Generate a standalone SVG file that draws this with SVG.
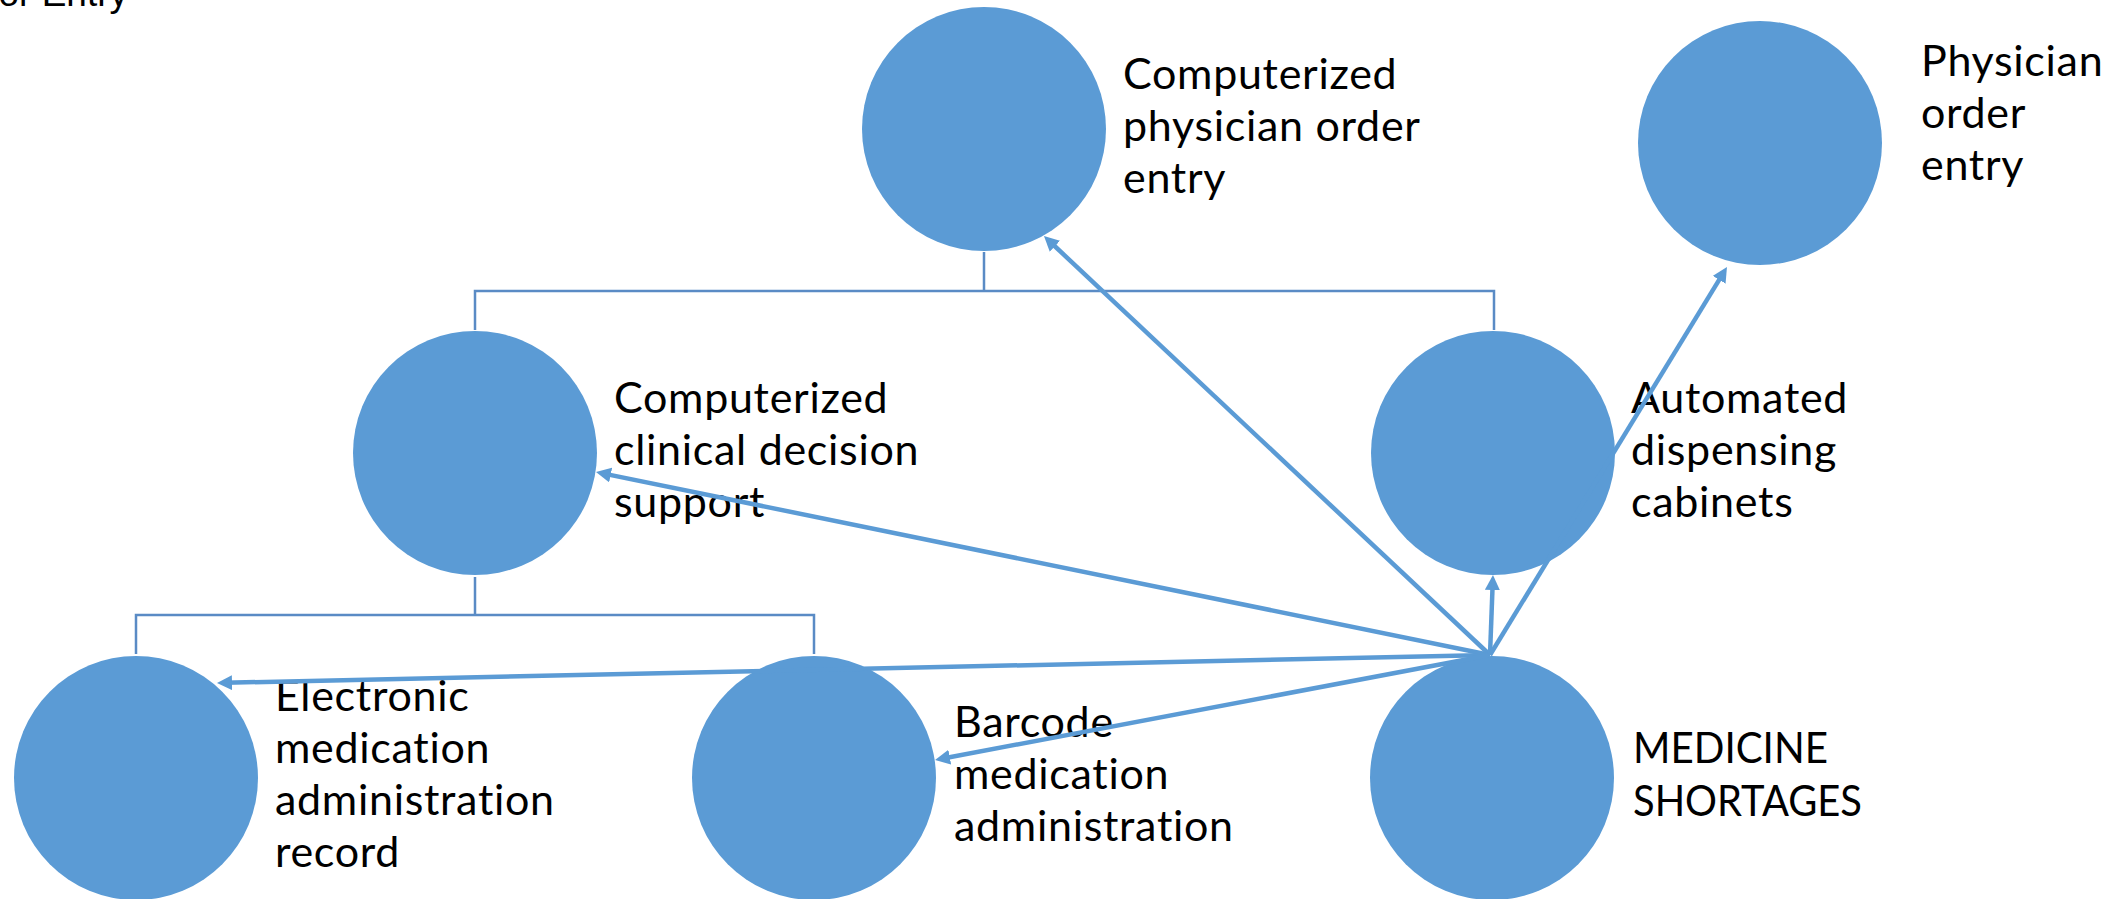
<svg xmlns="http://www.w3.org/2000/svg" width="2128" height="899" viewBox="0 0 2128 899">
  <style>
    .node { fill: #5b9bd5; }
    .lbl { font-family: Lato, "Open Sans", sans-serif; font-size: 43px; fill: #000; letter-spacing: 0.7px; font-variant-ligatures: none; font-feature-settings: "liga" 0, "clig" 0; }
    .caps { letter-spacing: 0; }
    .tree { fill: none; stroke: #5a8bc5; stroke-width: 2.5; }
    .link { fill: none; stroke: #5b9bd5; stroke-width: 4.5; marker-end: url(#head); }
    .title { font-family: "Liberation Sans", Arial, sans-serif; font-size: 37px; fill: #000; }
  </style>
  <defs>
    <marker id="head" markerUnits="userSpaceOnUse" markerWidth="16" markerHeight="16" refX="7" refY="7.5" orient="auto">
      <path d="M0,0 L15,7.5 L0,15 Z" fill="#5b9bd5"/>
    </marker>
  </defs>
  <rect width="2128" height="899" fill="#ffffff"/>

  <text class="title" x="128" y="6" text-anchor="end">or Entry</text>

  <!-- hierarchy brackets -->
  <g id="tree">
    <path class="tree" d="M984,252 V291 M475,330 V291 H1494 V330"/>
    <path class="tree" d="M475,577 V615 M136,654 V615 H814 V654"/>
  </g>

  <g id="node-cpoe">
    <circle class="node" cx="984" cy="129" r="122"/>
    <text class="lbl" x="1123"><tspan x="1123" y="89">Computerized</tspan><tspan x="1123" y="141">physician order</tspan><tspan x="1123" y="193">entry</tspan></text>
  </g>
  <g id="node-poe">
    <circle class="node" cx="1760" cy="143" r="122"/>
    <text class="lbl" x="1921"><tspan x="1921" y="76">Physician</tspan><tspan x="1921" y="128">order</tspan><tspan x="1921" y="180">entry</tspan></text>
  </g>
  <g id="node-ccds">
    <circle class="node" cx="475" cy="453" r="122"/>
    <text class="lbl" x="614"><tspan x="614" y="413">Computerized</tspan><tspan x="614" y="465">clinical decision</tspan><tspan x="614" y="517">support</tspan></text>
  </g>
  <g id="node-adc">
    <circle class="node" cx="1493" cy="453" r="122"/>
    <text class="lbl" x="1631"><tspan x="1631" y="413">Automated</tspan><tspan x="1631" y="465">dispensing</tspan><tspan x="1631" y="517">cabinets</tspan></text>
  </g>
  <g id="node-emar">
    <circle class="node" cx="136" cy="778" r="122"/>
    <text class="lbl" x="275"><tspan x="275" y="711">Electronic</tspan><tspan x="275" y="763">medication</tspan><tspan x="275" y="815">administration</tspan><tspan x="275" y="867">record</tspan></text>
  </g>
  <g id="node-bcma">
    <circle class="node" cx="814" cy="778" r="122"/>
    <text class="lbl" x="954"><tspan x="954" y="737">Barcode</tspan><tspan x="954" y="789">medication</tspan><tspan x="954" y="841">administration</tspan></text>
  </g>
  <g id="node-ms">
    <circle class="node" cx="1492" cy="778" r="122"/>
    <text class="lbl caps" x="1633"><tspan x="1633" y="763" textLength="195" lengthAdjust="spacingAndGlyphs">MEDICINE</tspan><tspan x="1633" y="816" textLength="229" lengthAdjust="spacingAndGlyphs">SHORTAGES</tspan></text>
  </g>

  <!-- links from MEDICINE SHORTAGES -->
  <g id="connectors">
    <path class="link" d="M1490,655 L1049.8,241.5"/>
    <path class="link" d="M1490,655 L603.8,473.6"/>
    <path class="link" d="M1490,655 L225,682.8"/>
    <path class="link" d="M1490,655 L942.9,758.5"/>
    <path class="link" d="M1490,655 L1492.7,583"/>
    <path class="link" d="M1490,655 L1722.8,273.8"/>
  </g>
</svg>
